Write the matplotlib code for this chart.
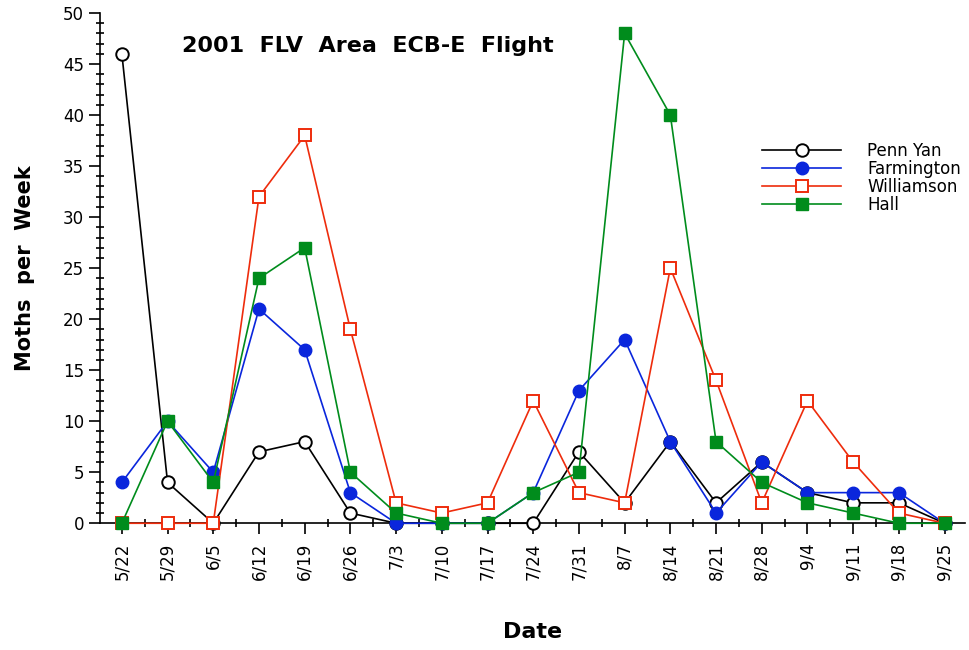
import matplotlib
matplotlib.use("Agg")
import matplotlib.pyplot as plt
from matplotlib.ticker import MultipleLocator

# データ
dates = ["5/22", "5/29", "6/5", "6/12", "6/19", "6/26", "7/3", "7/10", "7/17", "7/24",
         "7/31", "8/7", "8/14", "8/21", "8/28", "9/4", "9/11", "9/18", "9/25"]
penn_yan = [46, 4, 0, 7, 8, 1, 0, 0, 0, 0, 7, 2, 8, 2, 6, 3, 2, 2, 0]
farmington = [4, 10, 5, 21, 17, 3, 0, 0, 0, 3, 13, 18, 8, 1, 6, 3, 3, 3, 0]
williamson = [0, 0, 0, 32, 38, 19, 2, 1, 2, 12, 3, 2, 25, 14, 2, 12, 6, 1, 0]
hall = [0, 10, 4, 24, 27, 5, 1, 0, 0, 3, 5, 48, 40, 8, 4, 2, 1, 0, 0]

plt.rcParams['font.family'] = ['DejaVu Sans']

fig = plt.figure(figsize=(9.7, 6.5), dpi=100)
ax = fig.add_axes([0.103, 0.195, 0.892, 0.785])

x = list(range(len(dates)))
lw = 1.2
ms = 9

ax.plot(x, penn_yan, color="black", lw=lw, marker="o", ms=ms, mfc="white",
        mec="black", mew=1.4, label="Penn Yan", clip_on=False, zorder=3)
ax.plot(x, farmington, color="#0a26dc", lw=lw, marker="o", ms=ms, mfc="#0a26dc",
        mec="#0a26dc", label="Farmington", clip_on=False, zorder=4)
ax.plot(x, williamson, color="#ee2c0c", lw=lw, marker="s", ms=ms, mfc="white",
        mec="#ee2c0c", mew=1.4, label="Williamson", clip_on=False, zorder=5)
ax.plot(x, hall, color="#008c1c", lw=lw, marker="s", ms=ms, mfc="#008c1c",
        mec="#008c1c", label="Hall", clip_on=False, zorder=6)

ax.set_xlim(-0.48, 18.45)
ax.set_ylim(0, 50)
ax.set_xticks(x)
ax.set_xticklabels(dates, rotation=90, fontsize=12)
ax.xaxis.set_minor_locator(MultipleLocator(0.5))
ax.yaxis.set_major_locator(MultipleLocator(5))
ax.yaxis.set_minor_locator(MultipleLocator(1))
ax.tick_params(axis="both", which="major", direction="out", length=8, width=1.2, labelsize=12)
ax.tick_params(axis="both", which="minor", direction="inout", length=6, width=1.2)
ax.tick_params(axis="x", which="major", pad=6)

for s in ["top", "right"]:
    ax.spines[s].set_visible(False)
for s in ["left", "bottom"]:
    ax.spines[s].set_linewidth(1.2)

ax.set_xlabel("Date", fontsize=16, fontweight="bold", labelpad=30)
ax.set_ylabel("Moths  per  Week", fontsize=15, fontweight="bold", labelpad=20)

ax.text(0.095, 0.935, "2001  FLV  Area  ECB-E  Flight", transform=ax.transAxes,
        fontsize=16, fontweight="bold", ha="left", va="center")

leg = ax.legend(loc="upper left", bbox_to_anchor=(0.758, 0.76), frameon=False,
                fontsize=12, handlelength=4.7, handletextpad=1.6, labelspacing=0.0,
                borderaxespad=0, markerscale=1.0)

fig.savefig("out.png", dpi=100)
